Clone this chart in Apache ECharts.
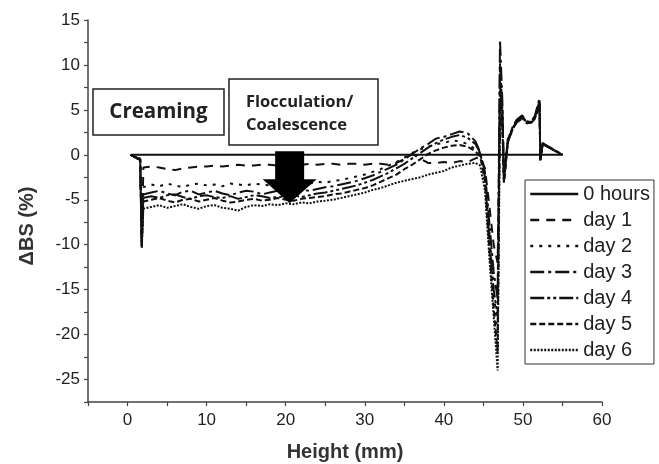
<!DOCTYPE html>
<html>
<head>
<meta charset="utf-8">
<script src="https://cdn.jsdelivr.net/npm/echarts@6/dist/echarts.min.js"></script>
<style>
html,body{margin:0;padding:0;background:#fff;}
#c{width:659px;height:464px;}
</style>
</head>
<body>
<div id="c"></div>
<script>
// ---- data ----
const seriesNames = ['0 hours', 'day 1', 'day 2', 'day 3', 'day 4', 'day 5', 'day 6'];
const xTickLabels = [0, 10, 20, 30, 40, 50, 60];
const yTickLabels = [-25, -20, -15, -10, -5, 0, 5, 10, 15];

const hours0Heights = [0.4, 55];
const hours0 = [0, 0];

const heights = [0.4, 1.6, 1.8, 2.0,
  3, 4, 5, 6, 7, 8, 9, 10, 11, 12, 13, 14, 15, 16, 17, 18, 19, 20, 21, 22, 23, 24, 25, 26, 27, 28, 29, 30,
  31, 32, 33, 34, 35, 36, 37, 38, 39, 40, 41, 42, 43, 44,
  44.6, 45.2, 45.8, 46.3, 46.8, 47.1, 47.4, 47.6, 48.1, 48.7, 49.2, 49.9, 50.5, 51.1, 51.5, 52.1, 52.2, 52.5, 55];

const day1 = [0, -0.5, -10.3, -1.4,
  -1.3, -1.4, -1.6, -1.7, -1.5, -1.4, -1.3, -1.3, -1.2, -1.3, -1.2, -1.1, -1.2, -1.2, -1.1, -1.1, -1.2, -1.1, -1.0, -1.1, -1.0, -1.1, -1.0, -1.0, -1.1, -1.0, -1.0, -1.1,
  -1.0, -1.0, -1.1, -0.9, -0.5, 0.1, -0.4, -0.9, -0.9, -0.8, -0.9, -0.7, -0.8, -0.4,
  -0.2, -1.5, -6, -10, -12, 3, 5, -2, 1.5, 2.8, 3.6, 4.0, 3.5, 3.6, 4.0, 5.2, -0.5, 1.2, 0];

const day2 = [0, -0.5, -10.0, -3.6,
  -3.3, -3.5, -3.2, -3.4, -3.6, -3.3, -3.2, -3.4, -3.3, -3.5, -3.2, -3.3, -3.4, -3.2, -3.3, -3.4, -3.2, -3.3, -3.1, -3.3, -3.2, -3.0, -3.1, -2.9, -2.8, -2.6, -2.4, -2.2,
  -1.9, -1.6, -1.2, -0.8, -0.3, 0.2, 0.6, 0.9, 1.2, 1.3, 1.6, 1.5, 1.2, 0.6,
  0.1, -2, -9, -15, -20, 6, 3, -2.5, 1.8, 3.0, 3.8, 4.2, 3.6, 3.7, 4.2, 5.8, -0.6, 1.3, 0];

const day3 = [0, -0.6, -10.2, -4.4,
  -4.2, -4.0, -4.3, -4.5, -4.1, -4.0, -4.4, -4.2, -4.0, -4.3, -4.5, -4.2, -4.0, -4.1, -4.4, -4.2, -4.0, -4.3, -4.1, -3.9, -4.0, -3.8, -3.6, -3.5, -3.3, -3.1, -2.9, -2.6,
  -2.3, -1.9, -1.5, -1.1, -0.5, 0.1, 0.7, 1.2, 1.8, 2.0, 2.3, 2.6, 2.4, 1.5,
  0.3, -2, -8, -13, -16, 12.8, 6, -3, 1.7, 3.1, 3.9, 4.4, 3.7, 3.8, 4.3, 6.3, -0.6, 1.3, 0];

const day4 = [0, -0.5, -10.1, -4.8,
  -4.6, -4.8, -4.5, -4.4, -4.7, -4.9, -4.6, -4.5, -4.7, -4.8, -4.6, -4.9, -4.7, -4.5, -4.6, -4.8, -4.7, -4.6, -4.5, -4.7, -4.5, -4.3, -4.2, -4.0, -3.8, -3.6, -3.4, -3.1,
  -2.8, -2.4, -2.0, -1.5, -1.0, -0.4, 0.2, 0.8, 1.3, 1.7, 2.0, 2.2, 1.9, 1.2,
  0.2, -2.5, -10, -15, -18, 10.2, 5, -2.8, 1.6, 3.0, 3.7, 4.3, 3.6, 3.7, 4.1, 6.0, -0.5, 1.2, 0];

const day5 = [0, -0.4, -9.8, -5.2,
  -5.0, -4.8, -5.1, -5.3, -5.0, -4.9, -5.2, -5.0, -4.8, -5.1, -5.3, -5.2, -5.0, -4.9, -5.1, -5.0, -4.8, -5.0, -5.1, -4.9, -4.8, -4.7, -4.6, -4.4, -4.3, -4.1, -3.9, -3.7,
  -3.4, -3.0, -2.6, -2.2, -1.6, -1.1, -0.5, 0.1, 0.5, 0.8, 1.0, 1.1, 0.9, 0.4,
  -0.2, -3, -11, -17, -22, 8, 4, -3.1, 1.4, 2.9, 3.6, 4.1, 3.5, 3.6, 4.0, 5.6, -0.6, 1.2, 0];

const day6 = [0, -0.6, -10.3, -6.0,
  -5.8, -5.6, -5.9, -5.7, -5.5, -5.8, -6.0, -5.7, -5.6, -5.9, -6.0, -6.2, -5.8, -5.6, -5.7, -5.5, -5.6, -5.4, -5.5, -5.3, -5.4, -5.2, -5.1, -5.0, -4.8, -4.6, -4.4, -4.2,
  -3.9, -3.7, -3.4, -3.1, -2.9, -2.7, -2.5, -2.2, -2.0, -1.8, -1.4, -1.2, -1.0, -0.9,
  -1.2, -4, -12, -18, -24, 4, 3, -3, 1.5, 2.8, 3.7, 4.2, 3.6, 3.7, 4.2, 5.9, -0.6, 1.2, 0];

const arrowTip = [20.5, -5.4];

// ---- chart ----
function pairs(xs, ys) { return xs.map((x, i) => [x, ys[i]]); }

const dashTypes = ['solid', [9, 7], [3, 6], [14, 4, 3, 4], [14, 3, 3, 3, 3, 3], [6, 3], [2, 1.5]];
const dataSets = [pairs(hours0Heights, hours0), pairs(heights, day1), pairs(heights, day2),
  pairs(heights, day3), pairs(heights, day4), pairs(heights, day5), pairs(heights, day6)];

const chart = echarts.init(document.getElementById('c'), null, {renderer: 'canvas'});
const axisColor = '#444';
const fontFam = 'Liberation Sans, Arial, sans-serif';
const labelStyle = {color: '#222', fontSize: 17, fontFamily: fontFam};
const nameStyle = {fontSize: 20, fontWeight: 'bold', color: '#333', fontFamily: fontFam};

chart.setOption({
  animation: false,
  backgroundColor: '#fff',
  grid: {left: 88, right: 57, top: 20, bottom: 62, containLabel: false, outerBoundsMode: 'none'},
  xAxis: {
    type: 'value', min: -5, max: 60, interval: 5,
    name: 'Height (mm)', nameLocation: 'middle', nameGap: 40,
    nameTextStyle: nameStyle,
    axisLine: {show: true, onZero: false, lineStyle: {color: axisColor, width: 1.5}},
    axisTick: {show: true, length: 4, lineStyle: {color: axisColor, width: 1.2}},
    axisLabel: Object.assign({margin: 10, customValues: xTickLabels}, labelStyle),
    splitLine: {show: false}
  },
  yAxis: {
    type: 'value', min: -27.5, max: 15, interval: 2.5,
    name: 'ΔBS (%)', nameLocation: 'middle', nameGap: 51, nameRotate: 90,
    nameTextStyle: Object.assign({padding: [0, 30, 0, 0]}, nameStyle),
    axisLine: {show: true, onZero: false, lineStyle: {color: axisColor, width: 1.5}},
    axisTick: {show: true, length: 4, lineStyle: {color: axisColor, width: 1.2}},
    axisLabel: Object.assign({margin: 8, customValues: yTickLabels}, labelStyle),
    splitLine: {show: false}
  },
  legend: {
    orient: 'vertical', left: 525, top: 180,
    padding: [4, 4, 4, 4], itemGap: 6, itemWidth: 48, itemHeight: 14,
    borderColor: '#333', borderWidth: 1, backgroundColor: '#fff',
    itemStyle: {opacity: 0},
    lineStyle: {width: 2.5},
    textStyle: {fontSize: 20, color: '#222', fontFamily: fontFam},
    data: seriesNames
  },
  series: seriesNames.map((n, i) => ({
    name: n, type: 'line', data: dataSets[i], symbol: 'none',
    lineStyle: {color: '#111', width: 2, type: dashTypes[i]},
    itemStyle: {color: '#111'},
    z: 2 + i
  }))
});

// annotation boxes and arrow
const tip = chart.convertToPixel({gridIndex: 0}, arrowTip);
chart.setOption({
  graphic: [
    {type: 'rect', shape: {x: 93, y: 89, width: 131, height: 46}, style: {fill: '#fff', stroke: '#222', lineWidth: 1.5}, z: 20},
    {type: 'text', x: 158.5, y: 112, style: {text: 'Creaming', fontSize: 20.5, fontWeight: 'bold', fontFamily: 'Open Sans, sans-serif', fill: '#222', align: 'center', verticalAlign: 'middle'}, z: 21},
    {type: 'rect', shape: {x: 229, y: 79, width: 149, height: 66}, style: {fill: '#fff', stroke: '#222', lineWidth: 1.5}, z: 20},
    {type: 'text', x: 246, y: 114, style: {text: 'Flocculation/\nCoalescence', fontSize: 16.5, lineHeight: 23, fontWeight: 'bold', fontFamily: 'Open Sans, sans-serif', fill: '#222', align: 'left', verticalAlign: 'middle'}, z: 21},
    {type: 'polygon', x: tip[0], y: tip[1], shape: {points: [[0, 0], [-27, -24], [-14.5, -24], [-14.5, -52], [14.5, -52], [14.5, -24], [27, -24]]}, style: {fill: '#000'}, z: 22}
  ]
});
</script>
</body>
</html>
